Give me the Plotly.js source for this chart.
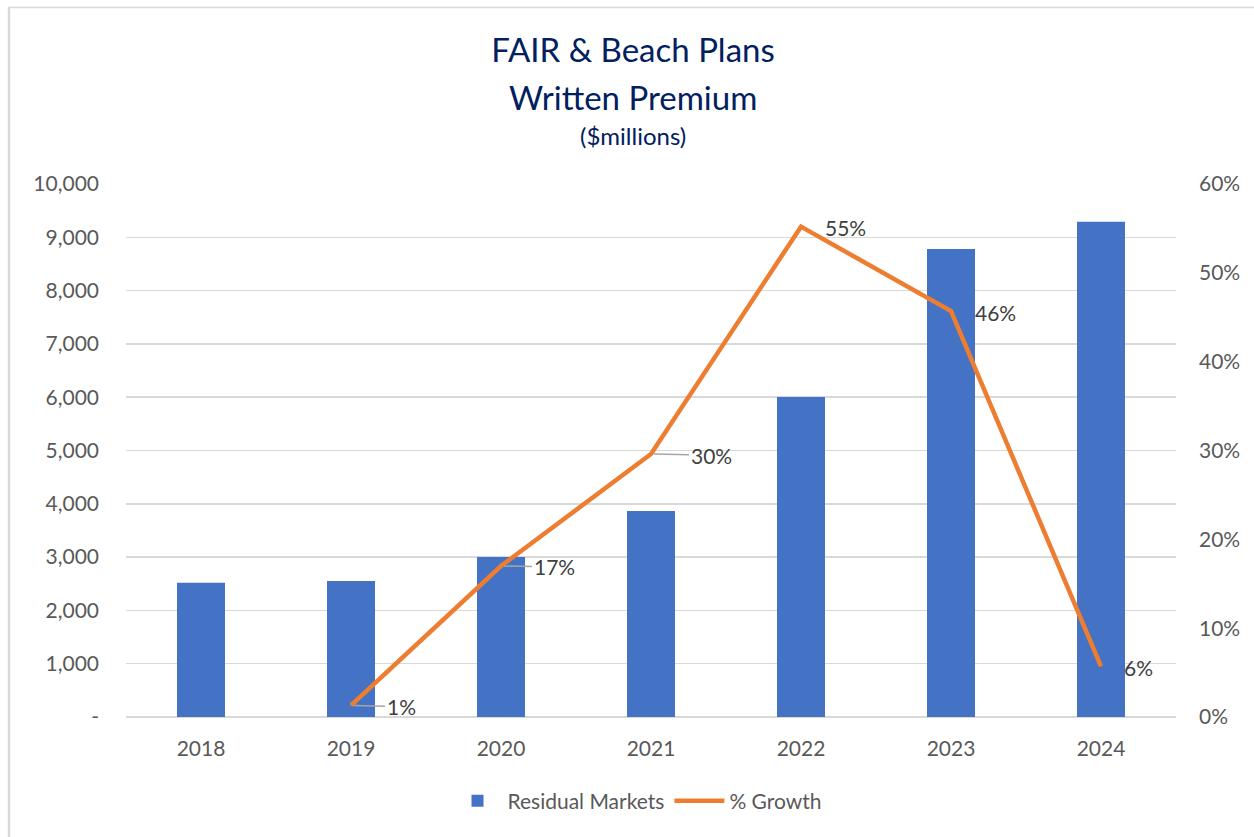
<!DOCTYPE html>
<html>
<head>
<meta charset="utf-8">
<script src="https://cdn.plot.ly/plotly-3.0.1.min.js"></script>
<style>html,body{margin:0;padding:0;background:#fff;}#chart{width:1254px;height:837px;}</style>
</head>
<body>
<div id="chart"></div>
<script>
const years = ["2018","2019","2020","2021","2022","2023","2024"];
const premium = [2520, 2550, 3000, 3865, 6005, 8780, 9290];
const growth = [null, 0.013, 0.17, 0.296, 0.552, 0.457, 0.057];
const growthLabels = ["", "1%", "17%", "30%", "55%", "46%", "6%"];
const leftTickVals = [0,1000,2000,3000,4000,5000,6000,7000,8000,9000,10000];
const leftTickText = ["-","1,000","2,000","3,000","4,000","5,000","6,000","7,000","8,000","9,000","10,000"];
const rightTickVals = [0,0.1,0.2,0.3,0.4,0.5,0.6];
const rightTickText = ["0%","10%","20%","30%","40%","50%","60%"];
// label offsets (px) and whether a leader line is drawn
const labelShift = [0, 50, 53, 60, 44, 44, 37];
const labelLeader = [false, true, true, true, false, false, false];

const FONT = "Lato, 'Open Sans', sans-serif";
const GREY = "#595959";

const traces = [
  {
    type: "bar", name: "Residual Markets", x: years, y: premium,
    marker: {color: "#4472C4"}, yaxis: "y", hoverinfo: "x+y"
  },
  {
    type: "scatter", mode: "lines", name: "% Growth", x: years, y: growth,
    line: {color: "#ED7D31", width: 4.5}, yaxis: "y2", connectgaps: false
  }
];

const annotations = [];
years.forEach((yr, i) => {
  if (growth[i] === null) return;
  if (labelLeader[i]) {
    annotations.push({
      x: i, y: growth[i], xref: "x", yref: "y2", text: growthLabels[i],
      showarrow: true, arrowhead: 0, arrowwidth: 1.5, arrowcolor: "#a6a6a6",
      ax: labelShift[i], ay: 1, standoff: 3,
      font: {family: FONT, size: 21, color: "#404040"}, xanchor: "center", yanchor: "middle"
    });
  } else {
    annotations.push({
      x: i, y: growth[i], xref: "x", yref: "y2", text: growthLabels[i],
      showarrow: false, xshift: labelShift[i], yshift: -1,
      font: {family: FONT, size: 21, color: "#404040"}, xanchor: "center", yanchor: "middle"
    });
  }
});
annotations.push({
  text: "Written Premium", xref: "paper", yref: "paper", x: (633-126)/1050, y: (717-97)/533,
  xanchor: "center", yanchor: "middle", showarrow: false,
  font: {family: FONT, size: 33, color: "#002060"}
});
annotations.push({
  text: "($millions)", xref: "paper", yref: "paper", x: (633-126)/1050, y: (717-135)/533,
  xanchor: "center", yanchor: "middle", showarrow: false,
  font: {family: FONT, size: 24, color: "#002060"}
});

const layout = {
  width: 1254, height: 837,
  margin: {l: 126, r: 78, t: 184, b: 120, pad: 0},
  paper_bgcolor: "#ffffff", plot_bgcolor: "#ffffff",
  font: {family: FONT, size: 21, color: GREY},
  title: {
    text: "FAIR & Beach Plans", x: 633/1254, xanchor: "center",
    y: 1 - 50/837, yanchor: "middle", yref: "container",
    font: {family: FONT, size: 33, color: "#002060"}
  },
  bargap: 0.68,
  showlegend: true,
  legend: {
    orientation: "h", x: (637-126)/1050, xanchor: "center", y: (717-801)/533, yanchor: "middle",
    font: {family: FONT, size: 21, color: GREY}, traceorder: "normal", itemwidth: 50
  },
  xaxis: {
    type: "category", range: [-0.5, 6.5], showgrid: false, showline: false,
    ticks: "", tickfont: {family: FONT, size: 21, color: GREY}, ticklabelstandoff: 17,
    fixedrange: true
  },
  yaxis: {
    range: [0, 10000], tickvals: leftTickVals, ticktext: leftTickText,
    showgrid: true, gridcolor: "#d9d9d9", gridwidth: 1.5, zeroline: true, zerolinecolor: "#d9d9d9", zerolinewidth: 1.5,
    showline: false, ticks: "", tickfont: {family: FONT, size: 21, color: GREY}, ticklabelstandoff: 26
  },
  yaxis2: {
    range: [0, 0.6], tickvals: rightTickVals, ticktext: rightTickText,
    overlaying: "y", side: "right", showgrid: false, zeroline: false, showline: false,
    ticks: "", tickfont: {family: FONT, size: 21, color: GREY}, ticklabelstandoff: 22
  },
  annotations: annotations,
  shapes: [
    {type: "line", xref: "paper", yref: "paper", x0: (9-126)/1050, x1: (9-126)/1050, y0: (717-7)/533, y1: (717-837)/533,
     line: {color: "#d9d9d9", width: 2.5}},
    {type: "line", xref: "paper", yref: "paper", x0: (8-126)/1050, x1: (1254-126)/1050, y0: (717-7.5)/533, y1: (717-7.5)/533,
     line: {color: "#d9d9d9", width: 1.5}}
  ]
};

Plotly.newPlot("chart", traces, layout, {displayModeBar: false, staticPlot: true});
</script>
</body>
</html>
